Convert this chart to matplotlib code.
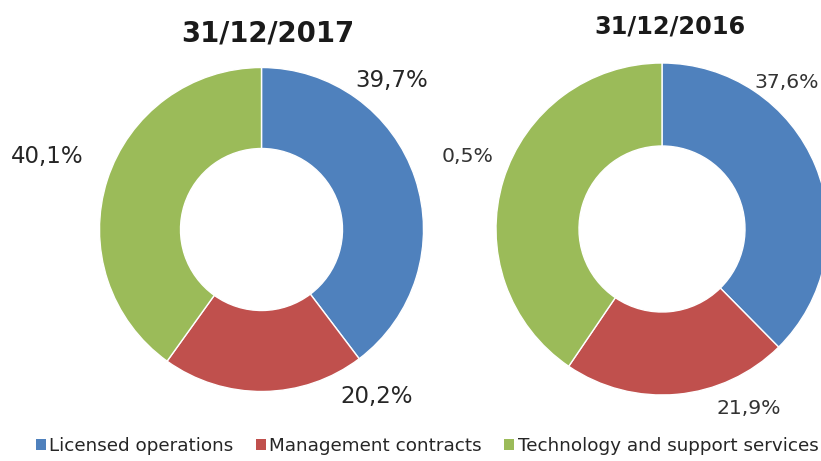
import matplotlib
matplotlib.use("Agg")
import matplotlib.pyplot as plt
from matplotlib.patches import Patch

categories = ["Licensed operations", "Management contracts", "Technology and support services"]
values_2017 = [39.7, 20.2, 40.1]
values_2016 = [37.6, 21.9, 40.5]
labels_2017 = ["39,7%", "20,2%", "40,1%"]
labels_2016 = ["37,6%", "21,9%", "0,5%"]
titles = ["31/12/2017", "31/12/2016"]
colors = ["#4F81BD", "#C0504D", "#9BBB59"]

W, H = 821, 461
fig = plt.figure(figsize=(W / 100, H / 100), dpi=100)
fig.patch.set_facecolor("white")

def px_axes(cx, cy, r):
    return fig.add_axes([(cx - r) / W, 1 - (cy + r) / H, 2 * r / W, 2 * r / H])

def draw(ax, vals):
    ax.pie(vals, colors=colors, startangle=90, counterclock=False,
           radius=1.0, wedgeprops=dict(width=0.5, edgecolor="white", linewidth=1.0))
    ax.set_xlim(-1, 1)
    ax.set_ylim(-1, 1)
    ax.set_aspect("equal")
    ax.axis("off")

ax1 = px_axes(261.5, 229.5, 162)
draw(ax1, values_2017)
ax2 = px_axes(662, 229, 166)
draw(ax2, values_2016)

def ftext(x, y, s, **kw):
    fig.text(x / W, 1 - y / H, s, ha="center", va="center", **kw)

lab_kw = dict(fontsize=16.5, color="#262626")
ftext(392, 81, labels_2017[0], **lab_kw)
ftext(377, 396, labels_2017[1], **lab_kw)
ftext(47, 156, labels_2017[2], **lab_kw)
lab_kw2 = dict(fontsize=14.7, color="#333333")
ftext(787, 83, labels_2016[0], **lab_kw2)
ftext(749, 408, labels_2016[1], **lab_kw2)
ftext(468, 157, labels_2016[2], **lab_kw2)

ftext(268, 34, titles[0], fontsize=19.8, fontweight="bold", color="#1a1a1a")
ftext(670, 27, titles[1], fontsize=17.3, fontweight="bold", color="#1a1a1a")

handles = [Patch(facecolor=c, edgecolor="none", label=l) for c, l in zip(colors, categories)]
fig.legend(handles=handles, loc="center", bbox_to_anchor=(427 / W, 1 - 446 / H), ncol=3,
           frameon=False, fontsize=13.2, handlelength=0.55, handleheight=0.55,
           handletextpad=0.2, columnspacing=1.2, labelcolor="#262626")

fig.savefig("out.png", dpi=100)
